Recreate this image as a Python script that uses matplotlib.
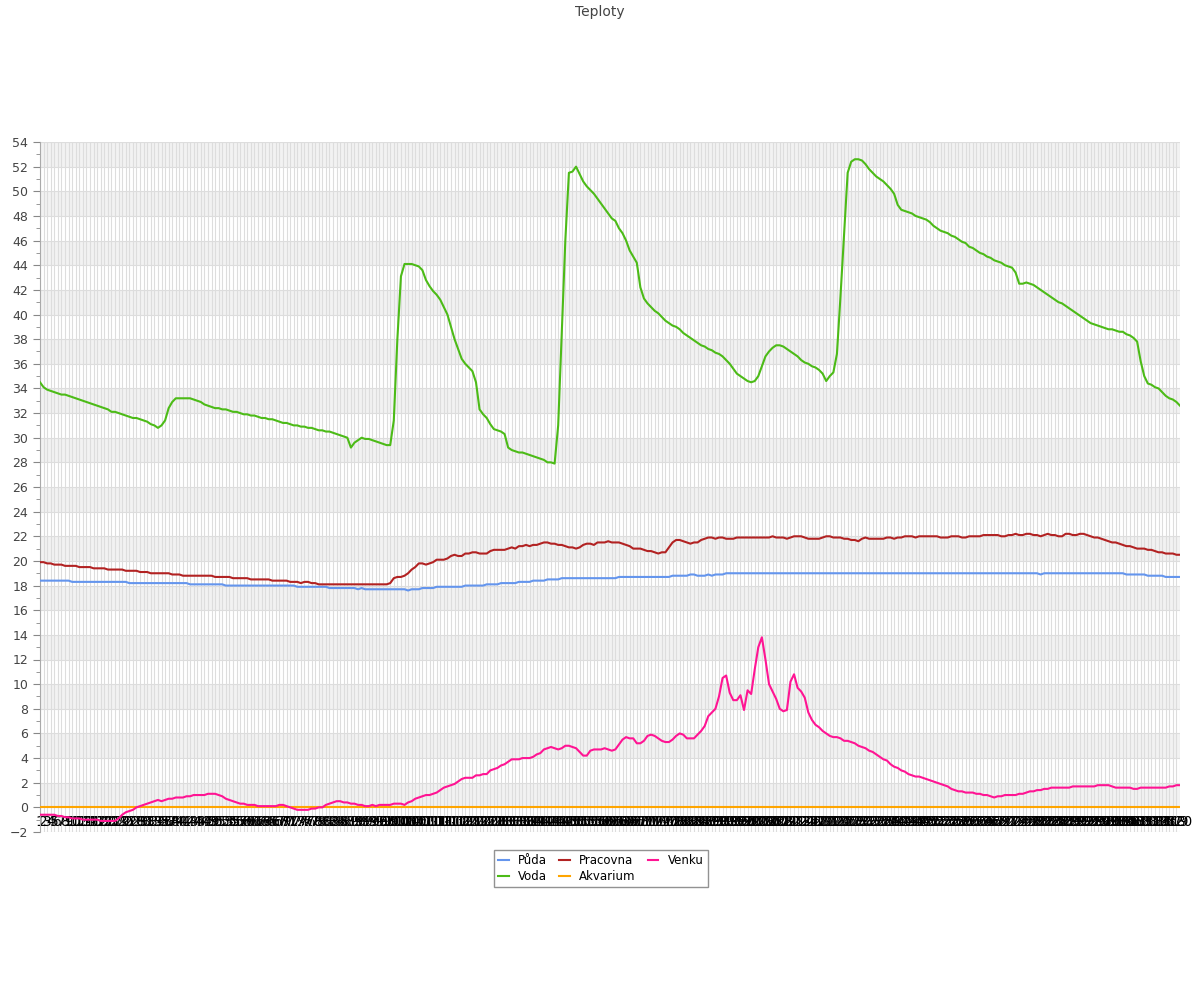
import matplotlib
matplotlib.use("Agg")
import matplotlib.pyplot as plt
import numpy as np

# Temperature series, one value per reading
puda = [
    18.4, 18.4, 18.4, 18.4, 18.4, 18.4, 18.4, 18.4, 18.4, 18.3,
    18.3, 18.3, 18.3, 18.3, 18.3, 18.3, 18.3, 18.3, 18.3, 18.3,
    18.3, 18.3, 18.3, 18.3, 18.3, 18.2, 18.2, 18.2, 18.2, 18.2,
    18.2, 18.2, 18.2, 18.2, 18.2, 18.2, 18.2, 18.2, 18.2, 18.2,
    18.2, 18.2, 18.1, 18.1, 18.1, 18.1, 18.1, 18.1, 18.1, 18.1,
    18.1, 18.1, 18.0, 18.0, 18.0, 18.0, 18.0, 18.0, 18.0, 18.0,
    18.0, 18.0, 18.0, 18.0, 18.0, 18.0, 18.0, 18.0, 18.0, 18.0,
    18.0, 18.0, 17.9, 17.9, 17.9, 17.9, 17.9, 17.9, 17.9, 17.9,
    17.9, 17.8, 17.8, 17.8, 17.8, 17.8, 17.8, 17.8, 17.8, 17.7,
    17.8, 17.7, 17.7, 17.7, 17.7, 17.7, 17.7, 17.7, 17.7, 17.7,
    17.7, 17.7, 17.7, 17.6, 17.7, 17.7, 17.7, 17.8, 17.8, 17.8,
    17.8, 17.9, 17.9, 17.9, 17.9, 17.9, 17.9, 17.9, 17.9, 18.0,
    18.0, 18.0, 18.0, 18.0, 18.0, 18.1, 18.1, 18.1, 18.1, 18.2,
    18.2, 18.2, 18.2, 18.2, 18.3, 18.3, 18.3, 18.3, 18.4, 18.4,
    18.4, 18.4, 18.5, 18.5, 18.5, 18.5, 18.6, 18.6, 18.6, 18.6,
    18.6, 18.6, 18.6, 18.6, 18.6, 18.6, 18.6, 18.6, 18.6, 18.6,
    18.6, 18.6, 18.7, 18.7, 18.7, 18.7, 18.7, 18.7, 18.7, 18.7,
    18.7, 18.7, 18.7, 18.7, 18.7, 18.7, 18.7, 18.8, 18.8, 18.8,
    18.8, 18.8, 18.9, 18.9, 18.8, 18.8, 18.8, 18.9, 18.8, 18.9,
    18.9, 18.9, 19.0, 19.0, 19.0, 19.0, 19.0, 19.0, 19.0, 19.0,
    19.0, 19.0, 19.0, 19.0, 19.0, 19.0, 19.0, 19.0, 19.0, 19.0,
    19.0, 19.0, 19.0, 19.0, 19.0, 19.0, 19.0, 19.0, 19.0, 19.0,
    19.0, 19.0, 19.0, 19.0, 19.0, 19.0, 19.0, 19.0, 19.0, 19.0,
    19.0, 19.0, 19.0, 19.0, 19.0, 19.0, 19.0, 19.0, 19.0, 19.0,
    19.0, 19.0, 19.0, 19.0, 19.0, 19.0, 19.0, 19.0, 19.0, 19.0,
    19.0, 19.0, 19.0, 19.0, 19.0, 19.0, 19.0, 19.0, 19.0, 19.0,
    19.0, 19.0, 19.0, 19.0, 19.0, 19.0, 19.0, 19.0, 19.0, 19.0,
    19.0, 19.0, 19.0, 19.0, 19.0, 19.0, 19.0, 19.0, 19.0, 19.0,
    18.9, 19.0, 19.0, 19.0, 19.0, 19.0, 19.0, 19.0, 19.0, 19.0,
    19.0, 19.0, 19.0, 19.0, 19.0, 19.0, 19.0, 19.0, 19.0, 19.0,
    19.0, 19.0, 19.0, 19.0, 18.9, 18.9, 18.9, 18.9, 18.9, 18.9,
    18.8, 18.8, 18.8, 18.8, 18.8, 18.7, 18.7, 18.7, 18.7, 18.7,
]

voda = [
    34.5, 34.1, 33.9, 33.8, 33.7, 33.6, 33.5, 33.5, 33.4, 33.3,
    33.2, 33.1, 33.0, 32.9, 32.8, 32.7, 32.6, 32.5, 32.4, 32.3,
    32.1, 32.1, 32.0, 31.9, 31.8, 31.7, 31.6, 31.6, 31.5, 31.4,
    31.3, 31.1, 31.0, 30.8, 31.0, 31.4, 32.4, 32.9, 33.2, 33.2,
    33.2, 33.2, 33.2, 33.1, 33.0, 32.9, 32.7, 32.6, 32.5, 32.4,
    32.4, 32.3, 32.3, 32.2, 32.1, 32.1, 32.0, 31.9, 31.9, 31.8,
    31.8, 31.7, 31.6, 31.6, 31.5, 31.5, 31.4, 31.3, 31.2, 31.2,
    31.1, 31.0, 31.0, 30.9, 30.9, 30.8, 30.8, 30.7, 30.6, 30.6,
    30.5, 30.5, 30.4, 30.3, 30.2, 30.1, 30.0, 29.2, 29.6, 29.8,
    30.0, 29.9, 29.9, 29.8, 29.7, 29.6, 29.5, 29.4, 29.4, 31.4,
    38.0, 43.1, 44.1, 44.1, 44.1, 44.0, 43.9, 43.6, 42.8, 42.3,
    41.9, 41.6, 41.2, 40.6, 40.0, 39.0, 38.0, 37.2, 36.4, 36.0,
    35.7, 35.4, 34.5, 32.3, 31.9, 31.6, 31.1, 30.7, 30.6, 30.5,
    30.3, 29.2, 29.0, 28.9, 28.8, 28.8, 28.7, 28.6, 28.5, 28.4,
    28.3, 28.2, 28.0, 28.0, 27.9, 31.0, 38.5, 46.0, 51.5, 51.6,
    52.0, 51.4, 50.8, 50.4, 50.1, 49.8, 49.4, 49.0, 48.6, 48.2,
    47.8, 47.6, 47.0, 46.6, 46.0, 45.2, 44.7, 44.2, 42.2, 41.3,
    40.9, 40.6, 40.3, 40.1, 39.8, 39.5, 39.3, 39.1, 39.0, 38.8,
    38.5, 38.3, 38.1, 37.9, 37.7, 37.5, 37.4, 37.2, 37.1, 36.9,
    36.8, 36.6, 36.3, 36.0, 35.6, 35.2, 35.0, 34.8, 34.6, 34.5,
    34.6, 35.0, 35.8, 36.6, 37.0, 37.3, 37.5, 37.5, 37.4, 37.2,
    37.0, 36.8, 36.6, 36.3, 36.1, 36.0, 35.8, 35.7, 35.5, 35.2,
    34.6, 35.0, 35.3, 36.8, 41.5, 46.5, 51.5, 52.4, 52.6, 52.6,
    52.5, 52.2, 51.8, 51.5, 51.2, 51.0, 50.8, 50.5, 50.2, 49.8,
    48.9, 48.5, 48.4, 48.3, 48.2, 48.0, 47.9, 47.8, 47.7, 47.5,
    47.2, 47.0, 46.8, 46.7, 46.6, 46.4, 46.3, 46.1, 45.9, 45.8,
    45.5, 45.4, 45.2, 45.0, 44.9, 44.7, 44.6, 44.4, 44.3, 44.2,
    44.0, 43.9, 43.8, 43.4, 42.5, 42.5, 42.6, 42.5, 42.4, 42.2,
    42.0, 41.8, 41.6, 41.4, 41.2, 41.0, 40.9, 40.7, 40.5, 40.3,
    40.1, 39.9, 39.7, 39.5, 39.3, 39.2, 39.1, 39.0, 38.9, 38.8,
    38.8, 38.7, 38.6, 38.6, 38.4, 38.3, 38.1, 37.8, 36.2, 35.0,
    34.4, 34.3, 34.1, 34.0, 33.7, 33.4, 33.2, 33.1, 32.9, 32.6,
]

pracovna = [
    19.9, 19.9, 19.8, 19.8, 19.7, 19.7, 19.7, 19.6, 19.6, 19.6,
    19.6, 19.5, 19.5, 19.5, 19.5, 19.4, 19.4, 19.4, 19.4, 19.3,
    19.3, 19.3, 19.3, 19.3, 19.2, 19.2, 19.2, 19.2, 19.1, 19.1,
    19.1, 19.0, 19.0, 19.0, 19.0, 19.0, 19.0, 18.9, 18.9, 18.9,
    18.8, 18.8, 18.8, 18.8, 18.8, 18.8, 18.8, 18.8, 18.8, 18.7,
    18.7, 18.7, 18.7, 18.7, 18.6, 18.6, 18.6, 18.6, 18.6, 18.5,
    18.5, 18.5, 18.5, 18.5, 18.5, 18.4, 18.4, 18.4, 18.4, 18.4,
    18.3, 18.3, 18.3, 18.2, 18.3, 18.3, 18.2, 18.2, 18.1, 18.1,
    18.1, 18.1, 18.1, 18.1, 18.1, 18.1, 18.1, 18.1, 18.1, 18.1,
    18.1, 18.1, 18.1, 18.1, 18.1, 18.1, 18.1, 18.1, 18.2, 18.6,
    18.7, 18.7, 18.8, 19.0, 19.3, 19.5, 19.8, 19.8, 19.7, 19.8,
    19.9, 20.1, 20.1, 20.1, 20.2, 20.4, 20.5, 20.4, 20.4, 20.6,
    20.6, 20.7, 20.7, 20.6, 20.6, 20.6, 20.8, 20.9, 20.9, 20.9,
    20.9, 21.0, 21.1, 21.0, 21.2, 21.2, 21.3, 21.2, 21.3, 21.3,
    21.4, 21.5, 21.5, 21.4, 21.4, 21.3, 21.3, 21.2, 21.1, 21.1,
    21.0, 21.1, 21.3, 21.4, 21.4, 21.3, 21.5, 21.5, 21.5, 21.6,
    21.5, 21.5, 21.5, 21.4, 21.3, 21.2, 21.0, 21.0, 21.0, 20.9,
    20.8, 20.8, 20.7, 20.6, 20.7, 20.7, 21.1, 21.5, 21.7, 21.7,
    21.6, 21.5, 21.4, 21.5, 21.5, 21.7, 21.8, 21.9, 21.9, 21.8,
    21.9, 21.9, 21.8, 21.8, 21.8, 21.9, 21.9, 21.9, 21.9, 21.9,
    21.9, 21.9, 21.9, 21.9, 21.9, 22.0, 21.9, 21.9, 21.9, 21.8,
    21.9, 22.0, 22.0, 22.0, 21.9, 21.8, 21.8, 21.8, 21.8, 21.9,
    22.0, 22.0, 21.9, 21.9, 21.9, 21.8, 21.8, 21.7, 21.7, 21.6,
    21.8, 21.9, 21.8, 21.8, 21.8, 21.8, 21.8, 21.9, 21.9, 21.8,
    21.9, 21.9, 22.0, 22.0, 22.0, 21.9, 22.0, 22.0, 22.0, 22.0,
    22.0, 22.0, 21.9, 21.9, 21.9, 22.0, 22.0, 22.0, 21.9, 21.9,
    22.0, 22.0, 22.0, 22.0, 22.1, 22.1, 22.1, 22.1, 22.1, 22.0,
    22.0, 22.1, 22.1, 22.2, 22.1, 22.1, 22.2, 22.2, 22.1, 22.1,
    22.0, 22.1, 22.2, 22.1, 22.1, 22.0, 22.0, 22.2, 22.2, 22.1,
    22.1, 22.2, 22.2, 22.1, 22.0, 21.9, 21.9, 21.8, 21.7, 21.6,
    21.5, 21.5, 21.4, 21.3, 21.2, 21.2, 21.1, 21.0, 21.0, 21.0,
    20.9, 20.9, 20.8, 20.7, 20.7, 20.6, 20.6, 20.6, 20.5, 20.5,
]

venku = [
    -0.6, -0.6, -0.6, -0.6, -0.6, -0.7, -0.7, -0.8, -0.8, -0.9,
    -0.9, -0.9, -1.0, -1.0, -1.0, -1.0, -1.0, -1.1, -1.1, -1.1,
    -1.1, -1.1, -0.9, -0.6, -0.4, -0.3, -0.2, 0.0, 0.1, 0.2,
    0.3, 0.4, 0.5, 0.6, 0.5, 0.6, 0.7, 0.7, 0.8, 0.8,
    0.8, 0.9, 0.9, 1.0, 1.0, 1.0, 1.0, 1.1, 1.1, 1.1,
    1.0, 0.9, 0.7, 0.6, 0.5, 0.4, 0.3, 0.3, 0.2, 0.2,
    0.2, 0.1, 0.1, 0.1, 0.1, 0.1, 0.1, 0.2, 0.2, 0.1,
    0.0, -0.1, -0.2, -0.2, -0.2, -0.2, -0.1, -0.1, 0.0, 0.0,
    0.2, 0.3, 0.4, 0.5, 0.5, 0.4, 0.4, 0.3, 0.3, 0.2,
    0.2, 0.1, 0.1, 0.2, 0.1, 0.2, 0.2, 0.2, 0.2, 0.3,
    0.3, 0.3, 0.2, 0.4, 0.5, 0.7, 0.8, 0.9, 1.0, 1.0,
    1.1, 1.2, 1.4, 1.6, 1.7, 1.8, 1.9, 2.1, 2.3, 2.4,
    2.4, 2.4, 2.6, 2.6, 2.7, 2.7, 3.0, 3.1, 3.2, 3.4,
    3.5, 3.7, 3.9, 3.9, 3.9, 4.0, 4.0, 4.0, 4.1, 4.3,
    4.4, 4.7, 4.8, 4.9, 4.8, 4.7, 4.8, 5.0, 5.0, 4.9,
    4.8, 4.5, 4.2, 4.2, 4.6, 4.7, 4.7, 4.7, 4.8, 4.7,
    4.6, 4.7, 5.1, 5.5, 5.7, 5.6, 5.6, 5.2, 5.2, 5.4,
    5.8, 5.9, 5.8, 5.6, 5.4, 5.3, 5.3, 5.5, 5.8, 6.0,
    5.9, 5.6, 5.6, 5.6, 5.9, 6.2, 6.6, 7.4, 7.7, 8.0,
    9.0, 10.5, 10.7, 9.3, 8.7, 8.7, 9.1, 7.9, 9.5, 9.2,
    11.2, 13.0, 13.8, 12.0, 10.0, 9.4, 8.8, 8.0, 7.8, 7.9,
    10.2, 10.8, 9.7, 9.4, 8.9, 7.7, 7.1, 6.7, 6.5, 6.2,
    6.0, 5.8, 5.7, 5.7, 5.6, 5.4, 5.4, 5.3, 5.2, 5.0,
    4.9, 4.8, 4.6, 4.5, 4.3, 4.1, 3.9, 3.8, 3.5, 3.3,
    3.2, 3.0, 2.9, 2.7, 2.6, 2.5, 2.5, 2.4, 2.3, 2.2,
    2.1, 2.0, 1.9, 1.8, 1.7, 1.5, 1.4, 1.3, 1.3, 1.2,
    1.2, 1.2, 1.1, 1.1, 1.0, 1.0, 0.9, 0.8, 0.9, 0.9,
    1.0, 1.0, 1.0, 1.0, 1.1, 1.1, 1.2, 1.3, 1.3, 1.4,
    1.4, 1.5, 1.5, 1.6, 1.6, 1.6, 1.6, 1.6, 1.6, 1.7,
    1.7, 1.7, 1.7, 1.7, 1.7, 1.7, 1.8, 1.8, 1.8, 1.8,
    1.7, 1.6, 1.6, 1.6, 1.6, 1.6, 1.5, 1.5, 1.6, 1.6,
    1.6, 1.6, 1.6, 1.6, 1.6, 1.6, 1.7, 1.7, 1.8, 1.8,
]

# aquarium sensor reads 0 the whole time
akvarium = [0.0] * len(voda)

x_labels = [str(i) for i in range(1, len(voda) + 1)]
x = np.arange(len(voda))

fig = plt.figure(figsize=(12, 10), dpi=100)
ax = fig.add_axes([40 / 1200, 1 - 832 / 1000, 1140 / 1200, 690 / 1000])

# alternating shaded bands
for y0 in range(0, 54, 4):
    ax.axhspan(y0, y0 + 2, color="#f2f2f2", zorder=0, lw=0)

ax.plot(x, puda, color="#6495ED", lw=1.5, label="Půda", zorder=3)
ax.plot(x, voda, color="#4CBB17", lw=1.5, label="Voda", zorder=3)
ax.plot(x, pracovna, color="#B22222", lw=1.5, label="Pracovna", zorder=3)
ax.plot(x, akvarium, color="#FFA500", lw=1.5, label="Akvarium", zorder=3)
ax.plot(x, venku, color="#FF1493", lw=1.5, label="Venku", zorder=3)

ax.set_xlim(0, len(voda) - 1)
ax.set_ylim(-2, 54)
ax.set_yticks(range(-2, 55, 2))
ax.set_yticks(range(-1, 54, 2), minor=True)
ax.set_xticks(x)
ax.set_xticklabels(x_labels, fontsize=8.5, color="#333333")

ax.grid(axis="y", color="#dddddd", lw=0.8, zorder=1)
ax.grid(axis="x", color="#dddddd", lw=0.8, zorder=1)
ax.set_axisbelow(True)

# x labels sit just under the zero line
ax.spines["bottom"].set_position(("data", 0))
ax.spines["bottom"].set_visible(False)
ax.tick_params(axis="x", length=0, pad=5.5)
ax.tick_params(axis="y", which="both", direction="out", color="#888888",
               labelsize=9, labelcolor="#444444")
ax.tick_params(axis="y", which="major", length=5)
ax.tick_params(axis="y", which="minor", length=3)
for side in ["top", "right"]:
    ax.spines[side].set_visible(False)
ax.spines["left"].set_color("#aaaaaa")

fig.suptitle("Teploty", y=0.995, fontsize=10, color="#444444")

leg = ax.legend(loc="upper center", bbox_to_anchor=(0.492, -0.026), ncol=3,
                fontsize=8.5, frameon=True, fancybox=False, handlelength=0.9,
                handletextpad=0.8, columnspacing=1.0, borderpad=0.35,
                labelspacing=0.25, borderaxespad=0)
leg.get_frame().set_edgecolor("#777777")
leg.get_frame().set_linewidth(1.0)

plt.savefig("out.png", dpi=100)
